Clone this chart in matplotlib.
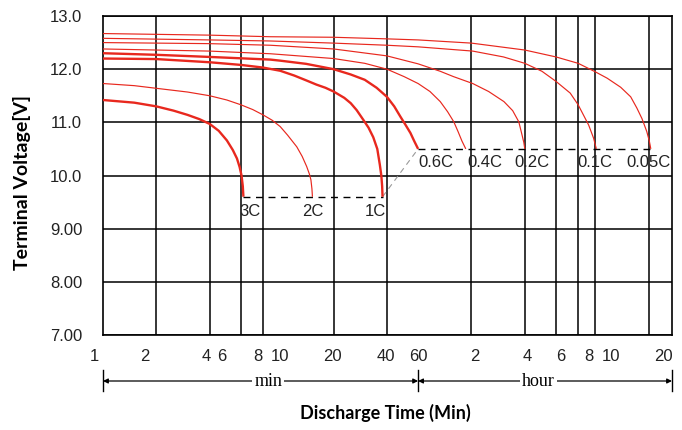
import numpy as np
import matplotlib
matplotlib.use('Agg')
import matplotlib.pyplot as plt
import matplotlib.transforms as mtransforms

# discharge curves: time in minutes, terminal voltage in V
rates = ['3C', '2C', '1C', '0.6C', '0.4C', '0.2C', '0.1C', '0.05C']

t_3c = [1, 1.5, 2, 2.5, 3, 3.5, 4, 4.5, 5, 5.4, 5.7, 5.9, 6.05, 6.15, 6.2]
v_3c = [11.42, 11.37, 11.30, 11.22, 11.14, 11.06, 10.97, 10.84, 10.66, 10.48, 10.32, 10.16, 10.0, 9.8, 9.6]

t_2c = [1, 1.5, 2, 3, 4, 5, 6, 7, 8, 9, 10, 11, 12.4, 13.3, 14.1, 14.6, 14.9, 15.1, 15.2]
v_2c = [11.73, 11.69, 11.64, 11.57, 11.50, 11.42, 11.33, 11.24, 11.14, 11.04, 10.92, 10.76, 10.54, 10.36, 10.17, 10.03, 9.92, 9.75, 9.6]

t_1c = [1, 2, 4, 6, 8, 10, 12, 14, 16, 18, 20, 23, 25, 27, 29.4, 31.5, 33.5, 35.3, 36.5, 37.2, 37.6, 37.8]
v_1c = [12.20, 12.19, 12.13, 12.08, 12.03, 11.97, 11.88, 11.79, 11.71, 11.65, 11.58, 11.46, 11.36, 11.23, 11.05, 10.90, 10.72, 10.50, 10.2, 10.0, 9.8, 9.6]

t_06c = [1, 2, 4, 8.8, 10, 14, 20, 25, 30, 35, 40, 44, 47.6, 51, 54.3, 57, 60]
v_06c = [12.30, 12.27, 12.23, 12.18, 12.16, 12.10, 12.0, 11.90, 11.80, 11.65, 11.48, 11.30, 11.11, 10.95, 10.80, 10.65, 10.5]

t_04c = [1, 4, 8.8, 20, 30, 40, 50, 60, 70, 80, 88, 95.4, 101, 106, 111.5]
v_04c = [12.38, 12.34, 12.29, 12.20, 12.11, 12.00, 11.86, 11.73, 11.58, 11.39, 11.20, 11.01, 10.82, 10.65, 10.5]

t_02c = [1, 4, 8.8, 20, 40, 60, 80, 95, 122, 150, 183, 205, 222, 232, 237, 240]
v_02c = [12.50, 12.48, 12.45, 12.38, 12.25, 12.10, 11.96, 11.86, 11.73, 11.58, 11.39, 11.22, 11.01, 10.75, 10.62, 10.5]

t_01c = [1, 4, 8.8, 20, 40, 60, 122, 182, 240, 300, 360, 433, 480, 550, 587, 608]
v_01c = [12.58, 12.55, 12.53, 12.49, 12.45, 12.42, 12.34, 12.23, 12.11, 11.96, 11.77, 11.55, 11.33, 10.95, 10.70, 10.5]

t_005c = [1, 4, 8.8, 20, 40, 60, 120, 240, 360, 480, 600, 700, 834, 950, 1029, 1100, 1170, 1210, 1234]
v_005c = [12.67, 12.64, 12.61, 12.60, 12.57, 12.55, 12.49, 12.36, 12.23, 12.11, 11.95, 11.83, 11.66, 11.48, 11.27, 11.07, 10.83, 10.65, 10.5]

times = [t_3c, t_2c, t_1c, t_06c, t_04c, t_02c, t_01c, t_005c]
volts = [v_3c, v_2c, v_1c, v_06c, v_04c, v_02c, v_01c, v_005c]
thick = ['3C', '1C', '0.6C']

# where the rate labels sit (time, voltage)
label_t = [6.77, 15.3, 34.6, 76, 142, 265, 598, 1204]
label_v = [9.32, 9.32, 9.32, 10.25, 10.25, 10.25, 10.25, 10.25]

# axis ticks (labels are hand placed in the original, not on the grid lines)
grid_x = [2, 4, 6, 8, 10, 20, 40, 60, 120, 240, 360, 480, 600, 1200]
xlabel_pos = [1, 1.73, 3.82, 4.70, 7.52, 10, 19.7, 39.3, 60, 126, 248, 381, 550, 733, 1456]
xlabel_txt = ['1', '2', '4', '6', '8', '10', '20', '40', '60', '2', '4', '6', '8', '10', '20']
y_ticks = [7, 8, 9, 10, 11, 12, 13]
y_txt = ['7.00', '8.00', '9.00', '10.0', '11.0', '12.0', '13.0']
x_min, x_max = 1, 1625
unit_spans = [(1, 60, 8.56, 'min'), (60, 1625, 286, 'hour')]

red = '#e8281e'
sans = ['Liberation Sans', 'DejaVu Sans']

fig = plt.figure(figsize=(6.82, 4.30), dpi=100)
ax = fig.add_axes([103/682, 1 - 335/430, 569/682, 319/430])
ax.set_xscale('log')

for r, t, v in zip(rates, times, volts):
    lw = 1.7 if r in thick else 0.85
    ax.plot(t, v, color=red, lw=lw, zorder=3, solid_capstyle='butt', solid_joinstyle='round')

# cut-off lines
ax.plot([t_3c[-1], t_1c[-1]], [v_3c[-1], v_1c[-1]], color='black', lw=1.0, ls=(0, (5, 4)), zorder=2)
ax.plot([t_1c[-1], t_06c[-1]], [v_1c[-1], v_06c[-1]], color='#999999', lw=0.8, ls=(0, (5, 4)), zorder=2)
ax.plot([t_06c[-1], t_005c[-1]], [v_06c[-1], v_005c[-1]], color='black', lw=1.0, ls=(0, (5, 4)), zorder=2)

for r, lt, lv in zip(rates, label_t, label_v):
    ax.text(lt, lv, r, ha='center', va='center', fontsize=12, family=sans, color='#222222')

# grid
ax.set_xticks(xlabel_pos, xlabel_txt, family=sans, fontsize=12)
ax.set_xticks(grid_x, minor=True)
ax.xaxis.set_minor_formatter(matplotlib.ticker.NullFormatter())
ax.set_yticks(y_ticks, y_txt, family=sans, fontsize=12)
ax.set_xlim(x_min, x_max)
ax.set_ylim(7, 13)
ax.grid(which='minor', axis='x', color='black', lw=1.1)
ax.grid(which='major', axis='y', color='black', lw=1.1)
ax.tick_params(which='both', length=0)
ax.tick_params(axis='x', pad=10, colors='#222222')
ax.tick_params(axis='y', pad=15, colors='#222222')
for s in ax.spines.values():
    s.set_color('black')
    s.set_linewidth(1.2)
# the "1" sits a little left of the axis in the original
first = ax.get_xticklabels()[0]
first.set_transform(first.get_transform() + mtransforms.ScaledTranslation(-9/100, 0, fig.dpi_scale_trans))

# min / hour dimension lines below the axis
tr = ax.get_xaxis_transform()
y_dim = -46 / 319
for xb in [x_min, 60, x_max]:
    ax.plot([xb, xb], [-35 / 319, -56 / 319], color='black', lw=1.0, transform=tr, clip_on=False)
for a, b, mid, name in unit_spans:
    ax.annotate('', xy=(a, y_dim), xytext=(b, y_dim), xycoords=tr, textcoords=tr,
                arrowprops=dict(arrowstyle='<|-|>', color='black', lw=0.9,
                                mutation_scale=7, shrinkA=0, shrinkB=0))
    ax.text(mid, y_dim, name, transform=tr, ha='center', va='center',
            family='Liberation Serif', fontsize=13,
            bbox=dict(facecolor='white', edgecolor='none', pad=1.5))

fig.text(385/682, 1 - 413/430, 'Discharge Time (Min)', ha='center', va='center',
         family='Lato', fontweight='bold', fontsize=13)
fig.text(22/682, 1 - 182/430, 'Terminal Voltage[V]', ha='center', va='center',
         rotation=90, family='Lato', fontweight='bold', fontsize=14)

fig.savefig('out.png', dpi=100)
